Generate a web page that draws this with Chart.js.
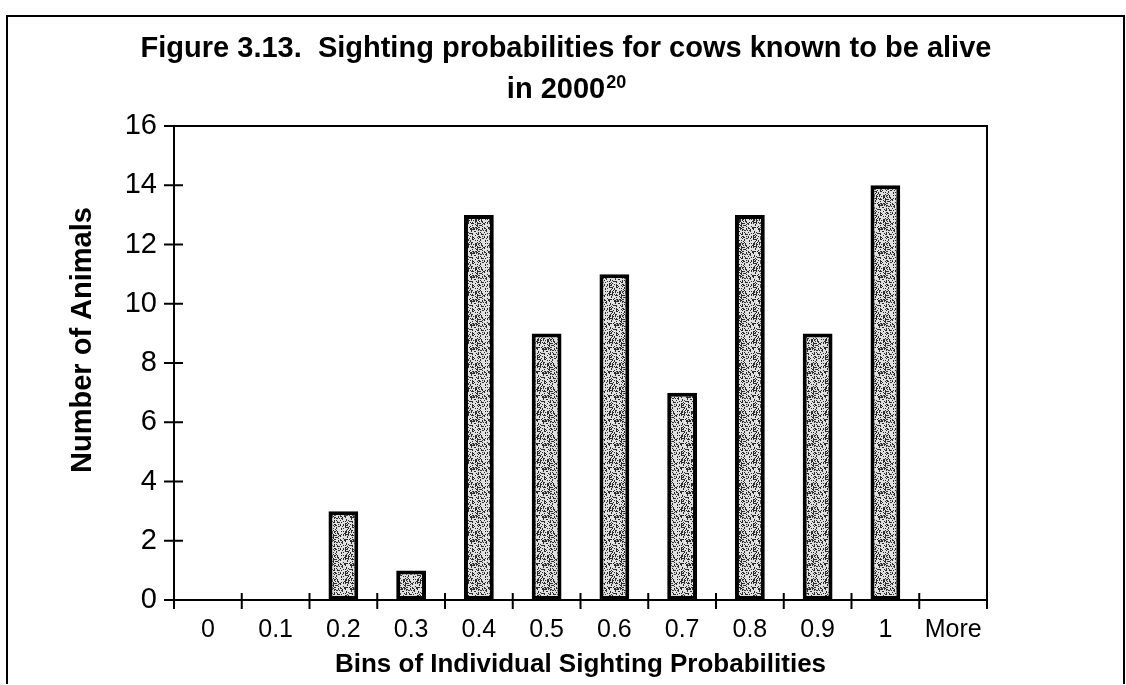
<!DOCTYPE html>
<html>
<head>
<meta charset="utf-8">
<script src="https://cdn.jsdelivr.net/npm/chart.js@4"></script>
<style>
    html, body { margin: 0; padding: 0; background: #fff; }
    #wrap { width: 1126px; height: 685px; position: relative; }
</style>
</head>
<body>
<div id="wrap"><canvas id="hist-chart" width="1126" height="685"></canvas></div>
<script>
// bins and counts
const binLabels = ['0', '0.1', '0.2', '0.3', '0.4', '0.5', '0.6', '0.7', '0.8', '0.9', '1', 'More'];
const animalCounts = [0, 0, 3, 1, 13, 9, 11, 7, 13, 9, 14, 0];
const yTicks = [0, 2, 4, 6, 8, 10, 12, 14, 16];

const titleLine1 = 'Figure 3.13.  Sighting probabilities for cows known to be alive';
const titleLine2 = 'in 2000';
const titleSup = '20';
const xTitle = 'Bins of Individual Sighting Probabilities';
const yTitle = 'Number of Animals';

const FONT = '"Liberation Sans", Arial, sans-serif';

// speckled grey fill like the scanned print
function makeStipple() {
    const c = document.createElement('canvas');
    c.width = 24;
    c.height = 24;
    const g = c.getContext('2d');
    g.fillStyle = '#e0e0e0';
    g.fillRect(0, 0, 24, 24);
    g.fillStyle = '#2a2a2a';
    for (let y = 0; y < 24; y++) {
        for (let x = 0; x < 24; x++) {
            const h = ((x * 73856093) ^ (y * 19349663)) >>> 0;
            if (h % 7 < 2) g.fillRect(x, y, 1, 1);
        }
    }
    return g.createPattern(c, 'repeat');
}

// frame, plot box, crossing tick marks and titles
const decorations = {
    id: 'decorations',
    afterDraw(chart) {
        const ctx = chart.ctx;
        const area = chart.chartArea;
        const xs = chart.scales.x;
        const ys = chart.scales.y;
        ctx.save();
        ctx.strokeStyle = '#000';

        // outer frame
        ctx.lineWidth = 2;
        ctx.beginPath();
        ctx.moveTo(7, 684);
        ctx.lineTo(7, 16);
        ctx.lineTo(1124, 16);
        ctx.lineTo(1124, 684);
        ctx.stroke();

        // top and right edge of plot box
        ctx.beginPath();
        ctx.moveTo(area.left, area.top);
        ctx.lineTo(area.right, area.top);
        ctx.lineTo(area.right, area.bottom);
        ctx.stroke();

        // y ticks crossing the axis
        yTicks.forEach(v => {
            const py = ys.getPixelForValue(v);
            ctx.beginPath();
            ctx.moveTo(area.left - 10, py);
            ctx.lineTo(area.left + 9, py);
            ctx.stroke();
        });

        // x ticks between bins
        const half = (xs.getPixelForValue(1) - xs.getPixelForValue(0)) / 2;
        for (let i = 0; i <= binLabels.length; i++) {
            const px = xs.getPixelForValue(i) - half;
            ctx.beginPath();
            ctx.moveTo(px, area.bottom - 7);
            ctx.lineTo(px, area.bottom + 9);
            ctx.stroke();
        }

        // chart title
        ctx.fillStyle = '#000';
        ctx.textBaseline = 'alphabetic';
        ctx.font = 'bold 29px ' + FONT;
        ctx.textAlign = 'center';
        ctx.fillText(titleLine1, 566, 57);
        const w2 = ctx.measureText(titleLine2).width;
        ctx.font = 'bold 18px ' + FONT;
        const ws = ctx.measureText(titleSup).width;
        const start = 566 - (w2 + ws) / 2;
        ctx.textAlign = 'left';
        ctx.font = 'bold 29px ' + FONT;
        ctx.fillText(titleLine2, start, 98);
        ctx.font = 'bold 18px ' + FONT;
        ctx.fillText(titleSup, start + w2 + 1, 88);

        // axis titles
        ctx.textAlign = 'center';
        ctx.textBaseline = 'middle';
        ctx.font = 'bold 26px ' + FONT;
        ctx.fillText(xTitle, (area.left + area.right) / 2, 665);
        ctx.font = 'bold 29px ' + FONT;
        ctx.translate(83, 340);
        ctx.rotate(-Math.PI / 2);
        ctx.fillText(yTitle, 0, 0);
        ctx.restore();
    }
};

const ctx = document.getElementById('hist-chart').getContext('2d');
const histChart = new Chart(ctx, {
    type: 'bar',
    data: {
        labels: binLabels,
        datasets: [{
            label: 'Number of Animals',
            data: animalCounts,
            backgroundColor: makeStipple(),
            borderColor: '#000',
            borderWidth: 4,
            borderSkipped: false,
            categoryPercentage: 1,
            barPercentage: 0.44
        }]
    },
    options: {
        responsive: false,
        animation: false,
        layout: { padding: { left: 0, top: 126, right: 139, bottom: 0 } },
        plugins: {
            legend: { display: false },
            title: { display: false },
            tooltip: { enabled: false }
        },
        scales: {
            x: {
                grid: { display: false, drawTicks: false },
                border: { display: true, color: '#000', width: 2 },
                ticks: {
                    color: '#000',
                    padding: 15,
                    font: { family: FONT, size: 25 }
                },
                afterFit(scale) { scale.height = 85; }
            },
            y: {
                min: 0,
                max: 16,
                grid: { display: false, drawTicks: false },
                border: { display: true, color: '#000', width: 2 },
                ticks: {
                    color: '#000',
                    stepSize: 2,
                    padding: 17,
                    font: { family: FONT, size: 29 }
                },
                afterFit(scale) { scale.width = 174; }
            }
        }
    },
    plugins: [decorations]
});
</script>
</body>
</html>
